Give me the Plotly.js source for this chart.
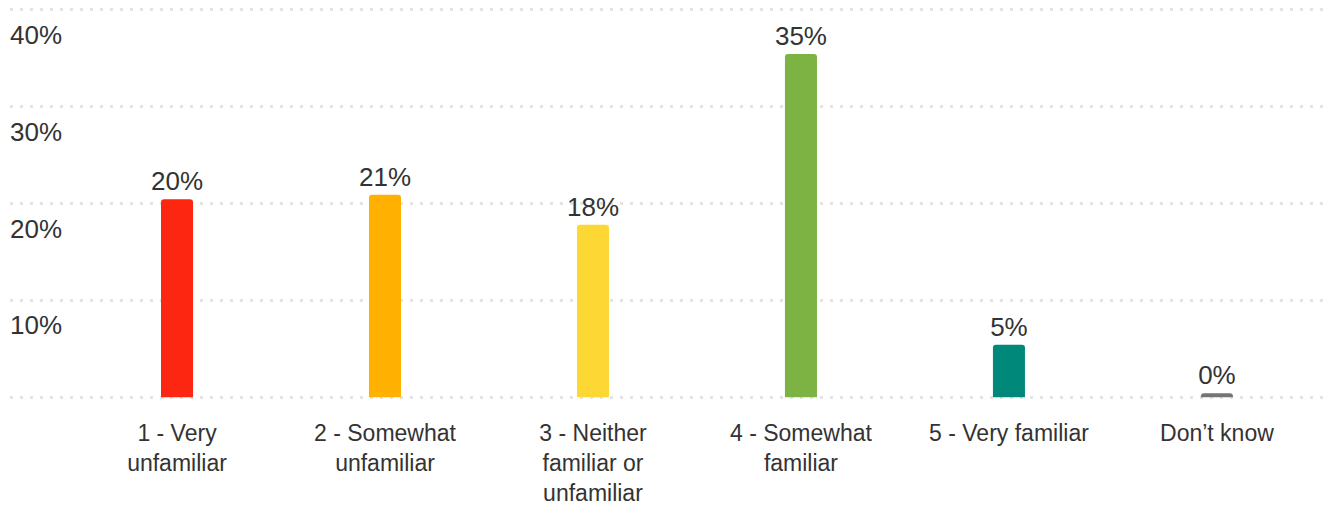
<!DOCTYPE html>
<html>
<head>
<meta charset="utf-8">
<script src="https://cdn.plot.ly/plotly-3.0.1.min.js"></script>
<style>html,body{margin:0;padding:0;background:#fff;}#chart{width:1327px;height:507px;}</style>
</head>
<body>
<div id="chart"></div>
<script>
const categories = ['1 - Very unfamiliar', '2 - Somewhat unfamiliar', '3 - Neither familiar or unfamiliar', '4 - Somewhat familiar', '5 - Very familiar', 'Don\u2019t know'];
const tickLabels = ['1 - Very<br>unfamiliar', '2 - Somewhat<br>unfamiliar', '3 - Neither<br>familiar or<br>unfamiliar', '4 - Somewhat<br>familiar', '5 - Very familiar', 'Don\u2019t know'];
const values = [20.45, 20.9, 17.8, 35.45, 5.4, 0.4];
const barColors = ['#fc2611', '#ffb000', '#fdd835', '#7cb342', '#00897b', '#757575'];
const yTickVals = [0, 10, 20, 30, 40];
const yTickText = ['', '10%', '20%', '30%', '40%'];

const font = {family: '"Liberation Sans", Arial, sans-serif', color: '#333333'};

Plotly.newPlot('chart', [{
  type: 'bar',
  x: categories,
  y: values,
  marker: {color: barColors, cornerradius: 3},
  texttemplate: '%{y:.0f}%',
  textposition: 'outside',
  constraintext: 'none',
  textfont: Object.assign({size: 26}, font),
  cliponaxis: false,
  hoverinfo: 'none'
}], {
  width: 1327,
  height: 507,
  margin: {l: 10, r: 4, t: 5, b: 105, pad: 0},
  paper_bgcolor: '#ffffff',
  plot_bgcolor: '#ffffff',
  bargap: 0.846,
  showlegend: false,
  font: Object.assign({size: 23}, font),
  xaxis: {
    type: 'category',
    range: [-0.803, 5.51],
    tickvals: categories,
    ticktext: tickLabels,
    showgrid: false,
    zeroline: false,
    showline: false,
    ticks: '',
    ticklabelstandoff: 15,
    tickfont: Object.assign({size: 23}, font)
  },
  yaxis: {
    range: [-0.5, 40.5],
    tickvals: yTickVals,
    ticktext: yTickText,
    showgrid: true,
    gridcolor: '#e4e4e4',
    gridwidth: 3,
    griddash: '3px,7px',
    zeroline: false,
    showline: false,
    ticks: '',
    ticklabelposition: 'inside',
    ticklabelstandoff: -3,
    ticklabelshift: 25,
    ticklabeloverflow: 'allow',
    tickfont: Object.assign({size: 26}, font)
  }
}, {staticPlot: true, displayModeBar: false});
</script>
</body>
</html>
